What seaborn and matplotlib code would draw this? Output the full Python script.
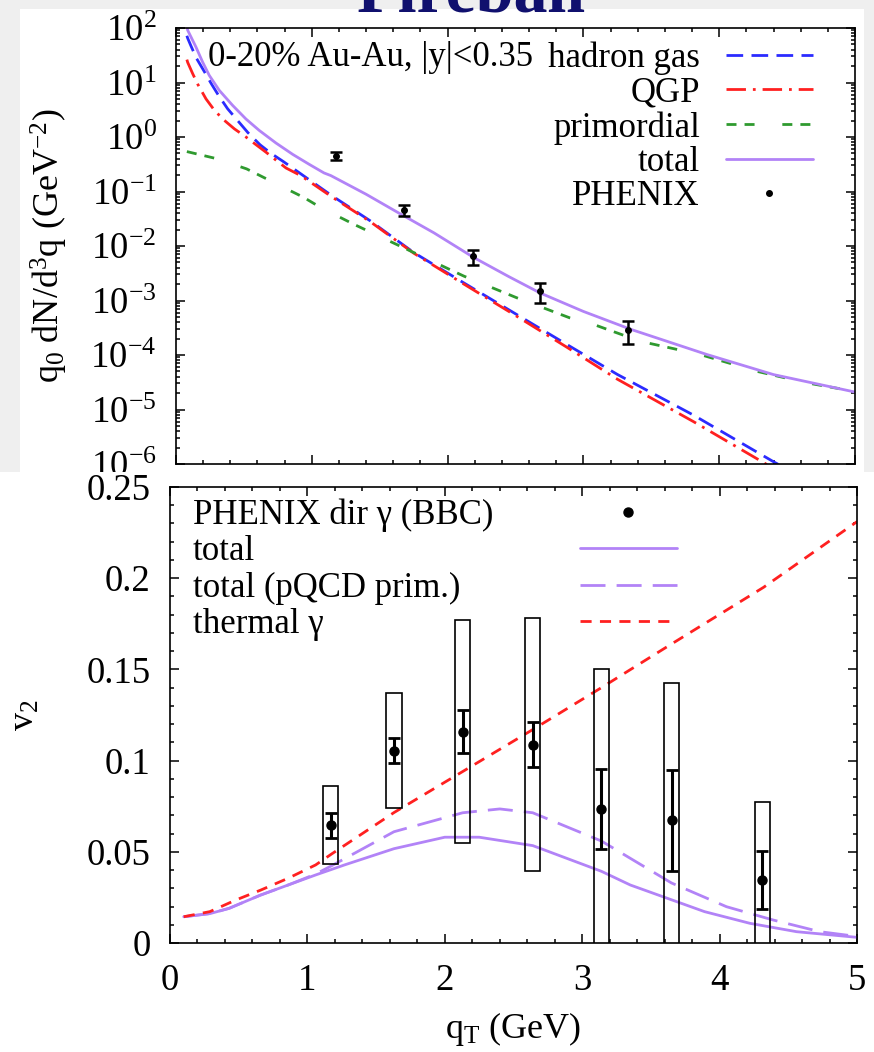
import numpy as np
import pandas as pd
import matplotlib
matplotlib.use("Agg")
import matplotlib.pyplot as plt
import seaborn as sns
from matplotlib.patches import Rectangle
from matplotlib.lines import Line2D
from matplotlib.ticker import MultipleLocator, LogLocator, NullFormatter

# ---------------- data: top panel (spectra) ----------------
had_x = [0.08, 0.086, 0.11, 0.15, 0.209, 0.26, 0.314, 0.38, 0.454, 0.53, 0.619, 0.70, 0.79, 0.92, 1.15, 1.43, 1.75, 2.12, 2.49, 2.88, 3.25, 3.81, 4.40, 4.50]
had_y = [72, 65, 47, 28, 15.8, 9.5, 5.75, 3.3, 2.0, 1.2, 0.72, 0.50, 0.355, 0.21, 0.083, 0.029, 0.0076, 0.0021, 5.9e-4, 1.55e-4, 4.4e-5, 7.9e-6, 1.1e-6, 8e-7]

qgp_x = [0.08, 0.086, 0.10, 0.123, 0.16, 0.221, 0.28, 0.344, 0.43, 0.515, 0.59, 0.663, 0.74, 0.81, 0.92, 1.15, 1.43, 1.75, 2.12, 2.49, 2.88, 3.25, 3.81, 4.40, 4.50]
qgp_y = [26.3, 23.4, 19.5, 14.5, 9.3, 5.0, 3.16, 2.14, 1.41, 1.0, 0.72, 0.525, 0.37, 0.27, 0.195, 0.079, 0.028, 0.0074, 0.002, 5.5e-4, 1.38e-4, 3.6e-5, 6.0e-6, 8.3e-7, 5.6e-7]

prim_x = [0.08, 0.30, 0.52, 0.70, 0.94, 1.07, 1.31, 1.70, 2.12, 2.51, 2.90, 3.08, 3.42, 3.86, 4.28, 4.64, 5.00]
prim_y = [0.54, 0.40, 0.26, 0.155, 0.078, 0.050, 0.025, 0.0087, 0.0028, 0.00112, 0.00048, 0.00036, 0.000178, 0.000102, 0.00005, 0.000031, 0.0000214]

tot_x = [0.08, 0.086, 0.147, 0.196, 0.245, 0.319, 0.417, 0.515, 0.613, 0.736, 0.86, 0.98, 1.09, 1.14, 1.40, 1.63, 1.90, 2.19, 2.45, 2.68, 3.00, 3.35, 3.91, 4.40, 5.00]
tot_y = [112, 91, 44.7, 23.7, 13.5, 7.16, 3.80, 2.14, 1.32, 0.776, 0.479, 0.316, 0.219, 0.196, 0.089, 0.0417, 0.0174, 0.0062, 0.00275, 0.00138, 0.00063, 0.000295, 0.000102, 0.0000437, 0.0000209]

phx_top_x = [1.18, 1.68, 2.19, 2.68, 3.33]
phx_top_y = [0.45, 0.046, 0.0065, 0.0015, 0.00029]
phx_top_err = [0.07, 0.010, 0.002, 0.0006, 0.00013]

top_labels = ["hadron gas", "QGP", "primordial", "total", "PHENIX"]
top_note = "0-20% Au-Au, |y|<0.35"

# ---------------- data: bottom panel (v2) ----------------
th_x = [0.10, 0.29, 0.48, 0.66, 0.86, 1.06, 1.18, 1.63, 2.13, 2.64, 3.14, 3.63, 4.32, 5.00]
th_y = [0.0144, 0.0172, 0.0236, 0.029, 0.0355, 0.0428, 0.049, 0.0715, 0.094, 0.117, 0.140, 0.163, 0.195, 0.231]

tv_x = [0.10, 0.29, 0.43, 0.66, 0.86, 1.06, 1.27, 1.63, 2.00, 2.25, 2.64, 3.14, 3.35, 3.62, 3.89, 4.22, 4.56, 5.00]
tv_y = [0.0144, 0.0161, 0.019, 0.0263, 0.0318, 0.0373, 0.0428, 0.0517, 0.058, 0.058, 0.0534, 0.0393, 0.0318, 0.0245, 0.0172, 0.0108, 0.0062, 0.0031]

pq_x = [0.10, 0.29, 0.43, 0.66, 0.86, 1.06, 1.18, 1.63, 2.13, 2.40, 2.64, 3.14, 3.65, 4.05, 4.39, 4.73, 5.00]
pq_y = [0.0144, 0.0161, 0.019, 0.0263, 0.0318, 0.0378, 0.0425, 0.061, 0.0714, 0.0735, 0.0714, 0.0559, 0.0329, 0.0199, 0.0126, 0.0062, 0.0036]

v2_x = [1.17, 1.63, 2.13, 2.64, 3.14, 3.65, 4.31]
v2_y = [0.0646, 0.1055, 0.1159, 0.1087, 0.0735, 0.0673, 0.0346]
v2_stat = [0.0068, 0.0070, 0.0116, 0.0123, 0.0220, 0.0277, 0.0157]
v2_sys = [0.0215, 0.0313, 0.0610, 0.0695, 0.0765, 0.0750, 0.0426]

bot_labels = ["PHENIX dir \u03b3 (BBC)", "total", "total (pQCD prim.)", "thermal \u03b3"]

# ---------------- style ----------------
sns.set_theme(style="ticks")
plt.rcParams["font.family"] = ["Liberation Serif", "DejaVu Serif"]
plt.rcParams.update({
    "mathtext.fontset": "custom",
    "mathtext.rm": "Liberation Serif",
    "mathtext.it": "Liberation Serif:italic",
    "mathtext.bf": "Liberation Serif:bold",
    "axes.linewidth": 1.2,
    "axes.edgecolor": "black",
    "xtick.color": "black",
    "ytick.color": "black",
    "text.color": "black",
    "axes.labelcolor": "black",
})

FS = 25      # legend / annotation text
TFS = 26.5   # tick labels
LFS = 26     # axis labels
C_BLUE = "#2b2bff"
C_RED = "#ff2020"
C_GREEN = "#2f9a2f"
C_PURP = "#b283f7"

W, H = 874, 1052
fig = plt.figure(figsize=(W / 100, H / 100), dpi=100)
fig.patch.set_facecolor("#efefef")

# white panel backgrounds
fig.add_artist(Rectangle((20 / W, 1 - 472 / H), 844 / W, 463 / H, transform=fig.transFigure,
                         facecolor="white", edgecolor="none", zorder=-1))
fig.add_artist(Rectangle((0, 0), 1, 1 - 472 / H, transform=fig.transFigure,
                         facecolor="white", edgecolor="none", zorder=0.5))


def px_axes(l, r, t, b):
    return [l / W, 1 - b / H, (r - l) / W, (b - t) / H]


ax1 = fig.add_axes(px_axes(176, 855, 28, 464), zorder=0)
ax2 = fig.add_axes(px_axes(170, 857, 487, 943), zorder=1)


def line(ax, x, y, color, lw, dashes, label):
    sns.lineplot(x=x, y=y, ax=ax, color=color, lw=lw, label=label, legend=False)
    ln = ax.lines[-1]
    if dashes is not None:
        ln.set_dashes(dashes)
    return ln


# ---------------- top panel ----------------
ax1.set_yscale("log")
l_had = line(ax1, had_x, had_y, C_BLUE, 2.0, (6, 3), top_labels[0])
l_qgp = line(ax1, qgp_x, qgp_y, C_RED, 2.0, (7, 2.5, 1, 2.5), top_labels[1])
l_prim = line(ax1, prim_x, prim_y, C_GREEN, 2.0, (3.6, 2.9, 3.6, 10), top_labels[2])
l_tot = line(ax1, tot_x, tot_y, C_PURP, 2.0, None, top_labels[3])
ax1.errorbar(phx_top_x, phx_top_y, yerr=phx_top_err, fmt="o", color="black", ms=4,
             elinewidth=1.8, capsize=4, capthick=1.8, zorder=5)

ax1.set_xlim(0, 5)
ax1.set_ylim(1e-6, 1e2)
ax1.xaxis.set_major_locator(MultipleLocator(1))
ax1.xaxis.set_minor_locator(MultipleLocator(0.2))
ax1.yaxis.set_minor_locator(LogLocator(base=10, subs=np.arange(2, 10), numticks=20))
ax1.yaxis.set_minor_formatter(NullFormatter())
ax1.tick_params(axis="x", labelbottom=False)
ax1.set_yticks([10.0 ** k for k in range(-6, 3)])
ax1.set_yticklabels([r"$10^{%d}$" % k for k in range(-6, 3)])
ax1.set_ylabel(r"q$_0$ dN/d$^3$q (GeV$^{-2}$)", fontsize=LFS)
ax1.yaxis.set_label_coords(-0.156, 0.5)

ph_proxy = Line2D([], [], marker="o", ls="none", color="black", ms=4)
ax1.legend([l_had, l_qgp, l_prim, l_tot, ph_proxy], top_labels, loc="upper right",
           bbox_to_anchor=(0.938, 0.9685), markerfirst=False, frameon=False, fontsize=FS,
           handlelength=2.5, handletextpad=0.75, labelspacing=0.04, borderpad=0, borderaxespad=0)
ax1.text(0.047, 0.913, top_note, transform=ax1.transAxes, fontsize=FS, ha="left", va="baseline")

# ---------------- bottom panel ----------------
v2y = np.array(v2_y)
v2s = np.array(v2_sys)
ax2.bar(v2_x, 2 * v2s, bottom=v2y - v2s, width=0.11, fill=False, edgecolor="black", lw=1.2, zorder=3)
b_tot = line(ax2, tv_x, tv_y, C_PURP, 2.0, None, bot_labels[1])
b_pq = line(ax2, pq_x, pq_y, C_PURP, 2.0, (9, 4), bot_labels[2])
b_th = line(ax2, th_x, th_y, C_RED, 2.0, (4, 3), bot_labels[3])
ax2.errorbar(v2_x, v2_y, yerr=v2_stat, fmt="o", color="black", ms=6.5,
             elinewidth=2.2, capsize=4.5, capthick=2.0, zorder=6)

ax2.set_xlim(0, 5)
ax2.set_ylim(0, 0.25)
ax2.xaxis.set_minor_locator(MultipleLocator(0.2))
ax2.yaxis.set_minor_locator(MultipleLocator(0.01))
ax2.set_yticks([0, 0.05, 0.1, 0.15, 0.2, 0.25])
ax2.set_yticklabels(["0", "0.05", "0.1", "0.15", "0.2", "0.25"])
ax2.set_xticks([0, 1, 2, 3, 4, 5])
ax2.set_xticklabels(["0", "1", "2", "3", "4", "5"])
ax2.set_ylabel(r"v$_2$", fontsize=LFS)
ax2.yaxis.set_label_coords(-0.186, 0.5)
ax2.set_xlabel(r"q$_\mathrm{T}$ (GeV)", fontsize=LFS)
ax2.xaxis.set_label_coords(0.5, -0.148)
ax2.xaxis.label.set_va("top")

# legend: texts on the left, handles in a column on the right
blank = [Line2D([], [], alpha=0) for _ in bot_labels]
legA = ax2.legend(blank, bot_labels, loc="upper left", bbox_to_anchor=(0.0335, 0.974),
                  frameon=False, fontsize=FS, handlelength=0, handletextpad=0,
                  labelspacing=0.09, borderpad=0, borderaxespad=0)
ax2.add_artist(legA)
ph2_proxy = Line2D([], [], marker="o", ls="none", color="black", ms=6.5)
legB = ax2.legend([ph2_proxy, b_tot, b_pq, b_th], bot_labels, loc="upper right",
                  bbox_to_anchor=(0.738, 0.974), markerfirst=False, frameon=False, fontsize=FS,
                  labelcolor="none", handlelength=2.8, handletextpad=0, labelspacing=0.09,
                  borderpad=0, borderaxespad=0)
for t in legB.get_texts():
    t.set_visible(False)

for ax in (ax1, ax2):
    ax.set_facecolor("white")
    ax.tick_params(which="both", direction="in", top=True, right=True, labelsize=TFS, width=1.1)
    ax.tick_params(which="major", length=6.5, pad=14)
    ax.tick_params(which="minor", length=3.2)
    for s in ax.spines.values():
        s.set_linewidth(1.2)
        s.set_color("black")
ax2.tick_params(axis="x", which="major", pad=15)

# clipped slide title
fig.text(471 / W, 1 - 11 / H, "Fireball", ha="center", va="baseline", fontsize=49,
         fontweight="bold", color="#10106e", zorder=3)

fig.savefig("out.png", dpi=100, facecolor=fig.get_facecolor())
